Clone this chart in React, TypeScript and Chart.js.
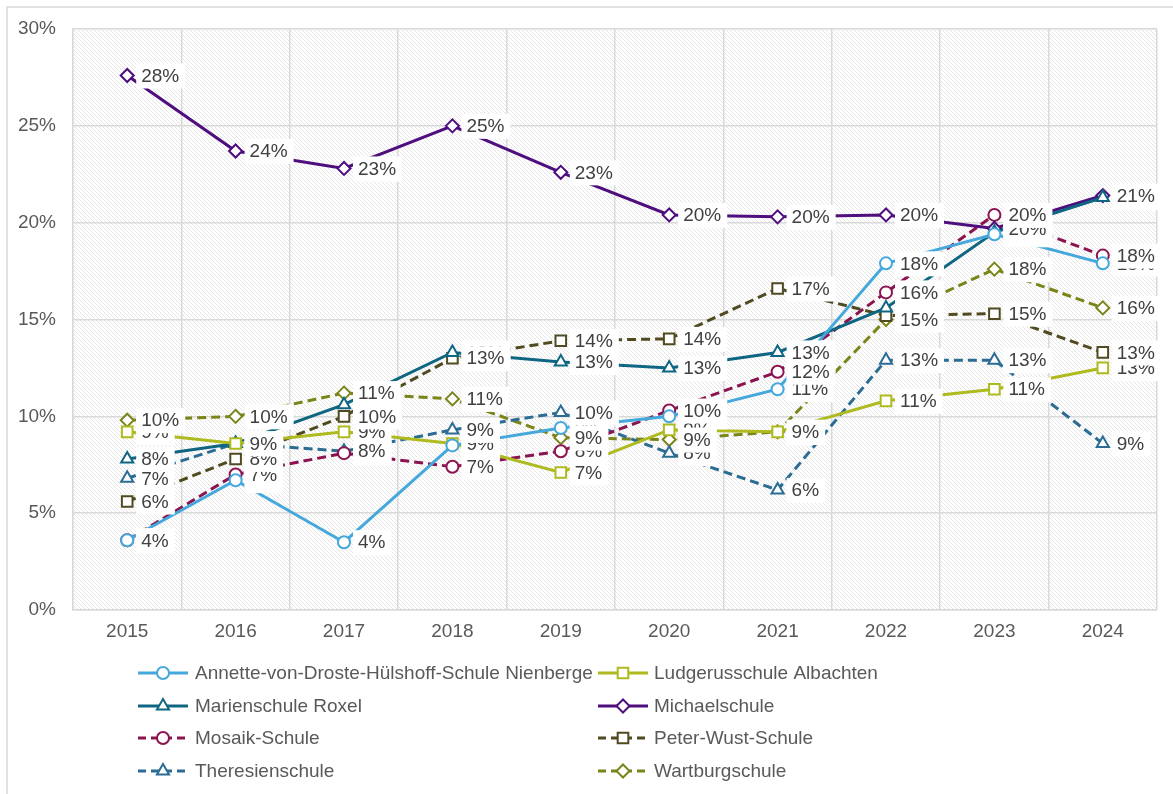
import React, { useEffect, useRef } from 'react';
import { Chart, registerables } from 'chart.js';

Chart.register(...registerables);

const years = ['2015', '2016', '2017', '2018', '2019', '2020', '2021', '2022', '2023', '2024'];
const yTicks = [0, 5, 10, 15, 20, 25, 30];

const annette = [3.6, 6.7, 3.5, 8.5, 9.4, 10.0, 11.4, 17.9, 19.4, 17.9];
const ludgerus = [9.2, 8.6, 9.2, 8.6, 7.1, 9.3, 9.2, 10.8, 11.4, 12.5];
const marien = [7.8, 8.6, 10.6, 13.3, 12.8, 12.5, 13.3, 15.6, 19.5, 21.3];
const michael = [27.6, 23.7, 22.8, 25.0, 22.6, 20.4, 20.3, 20.4, 19.7, 21.4];
const mosaik = [3.6, 7.0, 8.1, 7.4, 8.2, 10.3, 12.3, 16.4, 20.4, 18.3];
const peter = [5.6, 7.8, 10.0, 13.0, 13.9, 14.0, 16.6, 15.2, 15.3, 13.3];
const theresien = [6.8, 8.6, 8.2, 9.3, 10.2, 8.1, 6.2, 12.9, 12.9, 8.6];
const wartburg = [9.8, 10.0, 11.2, 10.9, 8.9, 8.8, 9.2, 15.0, 17.6, 15.6];

const seriesNames = [
  'Annette-von-Droste-Hülshoff-Schule Nienberge',
  'Ludgerusschule Albachten',
  'Marienschule Roxel',
  'Michaelschule',
  'Mosaik-Schule',
  'Peter-Wust-Schule',
  'Theresienschule',
  'Wartburgschule',
];
const seriesValues = [annette, ludgerus, marien, michael, mosaik, peter, theresien, wartburg];
const seriesColors = ['#45A8DC', '#AEBA1E', '#0F6682', '#4E0E7E', '#8B1450', '#4F4A20', '#2A6C93', '#7B8418'];
const seriesDashed = [false, false, false, false, true, true, true, true];
const seriesMarkers = ['circle', 'rect', 'triangle', 'rectRot', 'circle', 'rect', 'triangle', 'rectRot'];

const FONT = '"Liberation Sans", Arial, sans-serif';
const W = 1173;
const H = 794;

function markerRadius(style: string) {
  if (style === 'circle') return 6;
  if (style === 'rect') return 7.5;
  if (style === 'triangle') return 7;
  return 6.5;
}

function drawMarker(ctx: CanvasRenderingContext2D, style: string, x: number, y: number, color: string) {
  const r = markerRadius(style);
  ctx.save();
  ctx.setLineDash([]);
  ctx.fillStyle = '#ffffff';
  ctx.strokeStyle = color;
  ctx.lineWidth = 2;
  ctx.beginPath();
  if (style === 'circle') {
    ctx.arc(x, y, r, 0, Math.PI * 2);
  } else if (style === 'rect') {
    const s = r * Math.SQRT1_2;
    ctx.rect(x - s, y - s, 2 * s, 2 * s);
  } else if (style === 'triangle') {
    for (let k = 0; k < 3; k++) {
      const a = -Math.PI / 2 + (k * 2 * Math.PI) / 3;
      const px = x + Math.cos(a) * r;
      const py = y + Math.sin(a) * r;
      if (k === 0) ctx.moveTo(px, py);
      else ctx.lineTo(px, py);
    }
    ctx.closePath();
  } else {
    ctx.moveTo(x - r, y);
    ctx.lineTo(x, y - r);
    ctx.lineTo(x + r, y);
    ctx.lineTo(x, y + r);
    ctx.closePath();
  }
  ctx.fill();
  ctx.stroke();
  ctx.restore();
}

function makePattern(ctx: CanvasRenderingContext2D) {
  const tile = document.createElement('canvas');
  tile.width = 4;
  tile.height = 4;
  const t = tile.getContext('2d')!;
  t.fillStyle = '#ffffff';
  t.fillRect(0, 0, 4, 4);
  t.strokeStyle = '#e3e3e3';
  t.lineWidth = 0.9;
  t.beginPath();
  t.moveTo(-1, -1);
  t.lineTo(5, 5);
  t.moveTo(-1, 3);
  t.lineTo(1, 5);
  t.moveTo(3, -1);
  t.lineTo(5, 1);
  t.stroke();
  return ctx.createPattern(tile, 'repeat');
}

const backgroundPlugin = {
  id: 'bgHatch',
  beforeDraw(chart: any) {
    const { ctx, chartArea } = chart;
    ctx.save();
    ctx.fillStyle = '#ffffff';
    ctx.fillRect(0, 0, chart.width, chart.height);
    ctx.strokeStyle = '#d9d9d9';
    ctx.lineWidth = 1.5;
    ctx.beginPath();
    ctx.moveTo(7, chart.height);
    ctx.lineTo(7, 7);
    ctx.lineTo(chart.width, 7);
    ctx.stroke();
    const pat = makePattern(ctx);
    if (pat) {
      ctx.fillStyle = pat;
      ctx.fillRect(chartArea.left, chartArea.top, chartArea.right - chartArea.left, chartArea.bottom - chartArea.top);
    }
    ctx.restore();
  },
};

const labelsPlugin = {
  id: 'valueLabels',
  afterDatasetsDraw(chart: any) {
    const { ctx } = chart;
    ctx.save();
    ctx.font = `19px ${FONT}`;
    ctx.textBaseline = 'middle';
    ctx.textAlign = 'left';
    chart.data.datasets.forEach((ds: any, di: number) => {
      const meta = chart.getDatasetMeta(di);
      meta.data.forEach((pt: any, i: number) => {
        const v = ds.data[i];
        const txt = Math.round(v) + '%';
        const w = ctx.measureText(txt).width;
        const x = pt.x + 9;
        const y = pt.y;
        ctx.fillStyle = '#ffffff';
        ctx.fillRect(x, y - 12, w + 11, 25);
        ctx.fillStyle = '#404040';
        ctx.fillText(txt, x + 5, y + 1);
      });
    });
    ctx.restore();
  },
};

const legendPlugin = {
  id: 'gridLegend',
  afterDraw(chart: any) {
    const { ctx } = chart;
    const colLine = [138, 598];
    const colText = [195, 654];
    const rows = [673, 706, 738, 771];
    ctx.save();
    ctx.font = `19px ${FONT}`;
    ctx.textBaseline = 'middle';
    ctx.textAlign = 'left';
    chart.data.datasets.forEach((ds: any, di: number) => {
      const col = di % 2;
      const row = Math.floor(di / 2);
      const y = rows[row];
      const x0 = colLine[col];
      ctx.strokeStyle = ds.borderColor;
      ctx.lineWidth = 3;
      ctx.setLineDash(seriesDashed[di] ? [8, 5] : []);
      ctx.beginPath();
      ctx.moveTo(x0, y);
      ctx.lineTo(x0 + 50, y);
      ctx.stroke();
      ctx.setLineDash([]);
      drawMarker(ctx, seriesMarkers[di], x0 + 25, y, ds.borderColor);
      ctx.fillStyle = '#595959';
      ctx.fillText(ds.label, colText[col], y + 1);
    });
    ctx.restore();
  },
};

export default function App() {
  const canvasRef = useRef<HTMLCanvasElement | null>(null);

  useEffect(() => {
    if (!canvasRef.current) return;
    const datasets = seriesNames.map((name, i) => ({
      label: name,
      data: seriesValues[i],
      borderColor: seriesColors[i],
      backgroundColor: '#ffffff',
      borderWidth: 3,
      borderDash: seriesDashed[i] ? [9, 5] : [],
      pointStyle: seriesMarkers[i] as any,
      pointRadius: markerRadius(seriesMarkers[i]),
      pointBorderWidth: 2,
      pointBackgroundColor: '#ffffff',
      pointBorderColor: seriesColors[i],
      tension: 0,
      fill: false,
    }));

    const chart = new Chart(canvasRef.current, {
      type: 'line',
      data: { labels: years, datasets },
      options: {
        animation: false,
        responsive: false,
        maintainAspectRatio: false,
        layout: { padding: { left: 0, top: 29, right: 16, bottom: 794 - 610 - 40 } },
        plugins: {
          legend: { display: false },
          tooltip: { enabled: false },
        },
        scales: {
          x: {
            offset: true,
            grid: { color: '#d9d9d9', lineWidth: 1.5, offset: true, drawTicks: false },
            border: { color: '#d9d9d9', width: 1.5 },
            ticks: { color: '#595959', font: { family: FONT, size: 19 }, padding: 10, maxRotation: 0 },
            afterFit: (s: any) => {
              s.height = 40;
            },
          },
          y: {
            min: 0,
            max: 30,
            afterBuildTicks: (s: any) => {
              s.ticks = yTicks.map((v) => ({ value: v }));
            },
            grid: { color: '#d9d9d9', lineWidth: 1.5, drawTicks: false },
            border: { color: '#d9d9d9', width: 1.5 },
            ticks: {
              color: '#595959',
              font: { family: FONT, size: 19 },
              padding: 17,
              callback: (v: any) => v + '%',
            },
            afterFit: (s: any) => {
              s.width = 73;
            },
          },
        },
      },
      plugins: [backgroundPlugin, labelsPlugin, legendPlugin],
    });
    return () => chart.destroy();
  }, []);

  return (
    <div style={{ position: 'absolute', left: 0, top: 0, width: W, height: H }}>
      <canvas ref={canvasRef} width={W} height={H} style={{ display: 'block', width: W, height: H }} />
    </div>
  );
}
